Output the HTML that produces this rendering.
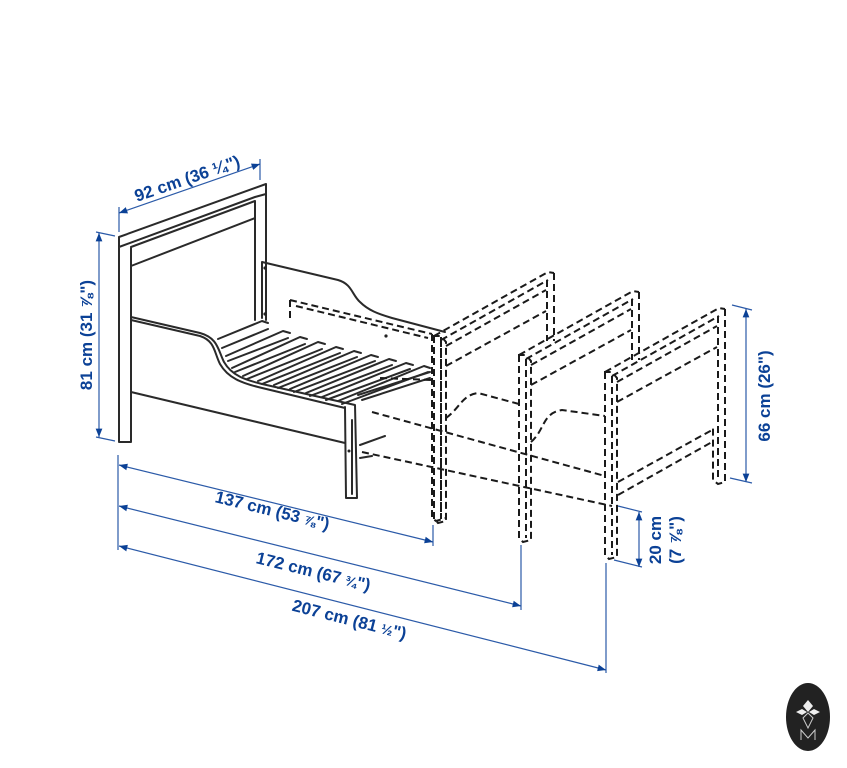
<!DOCTYPE html>
<html><head><meta charset="utf-8"><style>
html,body{margin:0;padding:0;background:#fff;}
svg{display:block;}
.b{fill:none;stroke:#2a2a2a;stroke-width:2;stroke-linejoin:round;stroke-linecap:round;}
.d{fill:none;stroke:#1a1a1a;stroke-width:2;stroke-dasharray:7 4;}
.dm{fill:none;stroke:#2b5aa8;stroke-width:1.2;}
.t{font-family:"Liberation Sans",sans-serif;font-weight:bold;font-size:17px;fill:#0b4196;}
</style></head><body>
<svg width="847" height="768" viewBox="0 0 847 768" xmlns="http://www.w3.org/2000/svg">
<defs>
<marker id="a" viewBox="0 0 10 10" refX="10" refY="5" markerWidth="7" markerHeight="7" orient="auto-start-reverse"><path d="M0,1 L10,5 L0,9 z" fill="#0b4196"/></marker>
<g id="fr">
<path class="d" d="M0,0 L0,183 L4,187 L12,185 L12,6 L7,0 Z M7,4 L7,183"/>
<path class="d" d="M0,0 L114,-64 L120,-63 M7,4 L114,-56 M12,10 L112,-46 M12,30 L112,-25"/>
</g>
</defs>

<path class="b" d="M119,237 L266,184 L266,320 M119,237 L119,442 L131,442 L131,248 M119,247 L255,197 L266,194 M131,247 L255,201 L255,320 M131,266 L255,218"/>
<path class="b" d="M262,262 L262,318 M262,262 L338,280 C352,284 352,295 360,302 C368,310 378,314 392,318 L445,332"/>
<circle cx="265" cy="268" r="1.6" fill="#222"/><circle cx="265" cy="314" r="1.6" fill="#222"/><circle cx="386" cy="336" r="1.6" fill="#222"/>
<path class="b" d="M131,317 L200,333 C218,338 218,350 224,362 C232,376 246,380 262,384 L355,405 L357,498 L346,498 L345,407 M131,320 L200,336 C215,341 214,352 220,364 C228,378 242,383 258,387 L345,408 M131,392 L345,443"/>
<path class="b" d="M352,420 L352,494 M360,445 L385,436 M360,458 L372,456"/>
<circle cx="349" cy="451" r="1.5" fill="#222"/>
<g class="b" stroke-width="2.2">
<path d="M218,339 L262,321 L268,323 M222,348 L268,329"/>
<path d="M226,356 L283,331 L290,333 M228,361 L288,338"/>
<path d="M232,368 L300,337 L307,339 M235,372 L305,344"/>
<path d="M243,376 L318,342 L325,344 M247,379 L322,349"/>
<path d="M258,381 L336,347 L343,349 M262,384 L340,353"/>
<path d="M274,385 L354,351 L361,353 M278,388 L357,357"/>
<path d="M290,389 L371,355 L378,357 M294,392 L375,361"/>
<path d="M306,393 L389,359 L396,361 M310,396 L392,365"/>
<path d="M322,397 L406,363 L413,365 M326,400 L410,369"/>
<path d="M338,401 L424,366 L430,368 M342,404 L428,372"/>
<path d="M358,395 L430,372 M362,400 L430,378"/>
</g>
<path class="d" d="M290,300 L290,318 M290,300 L432,334 M296,306 L428,338 M380,378 L432,380 M432,334 L432,518 L436,521 L446,518 M441,337 L441,518"/>
<use href="#fr" x="434" y="336"/>
<path class="d" d="M554,273 L554,341 M547,280 L547,341"/>
<use href="#fr" x="519" y="355"/>
<path class="d" d="M639,292 L639,360 M632,299 L632,360"/>
<use href="#fr" x="605" y="372"/>
<path class="d" d="M725,309 L725,482 L718,484 L713,480 L713,425 M718,316 L718,478 M618,495 L712,442 M618,482 L712,430"/>
<path class="d" d="M372,412 L605,476 M362,452 L612,506"/>
<path class="d" d="M446,418 C460,408 462,395 478,393 L519,404 M531,442 C545,430 542,413 562,410 L605,416"/>

<g>
<path class="dm" d="M119,207 L119,232 M260,159 L260,180 M96,232 L115,236 M96,437 L115,441"/>
<line class="dm" x1="119" y1="213" x2="260" y2="164" marker-start="url(#a)" marker-end="url(#a)"/>
<line class="dm" x1="99" y1="233" x2="99" y2="437" marker-start="url(#a)" marker-end="url(#a)"/>
<path class="dm" d="M118,455 L118,550 M433,525 L433,546 M521,545 L521,610 M606,563 L606,673 M732,305 L752,310 M730,478 L752,483 M618,506 L642,512 M614,560 L642,567"/>
<line class="dm" x1="119" y1="465" x2="433" y2="542" marker-start="url(#a)" marker-end="url(#a)"/>
<line class="dm" x1="119" y1="506" x2="521" y2="606" marker-start="url(#a)" marker-end="url(#a)"/>
<line class="dm" x1="119" y1="546" x2="606" y2="670" marker-start="url(#a)" marker-end="url(#a)"/>
<line class="dm" x1="746" y1="309" x2="746" y2="482" marker-start="url(#a)" marker-end="url(#a)"/>
<line class="dm" x1="639" y1="512" x2="639" y2="567" marker-start="url(#a)" marker-end="url(#a)"/>
</g>
<text class="t" text-anchor="middle" transform="translate(189,184) rotate(-19)">92 cm (36 ¼")</text>
<text class="t" text-anchor="middle" transform="translate(92,335) rotate(-90)">81 cm (31 ⅞")</text>
<text class="t" text-anchor="middle" transform="translate(271,516) rotate(13.8)">137 cm (53 <tspan font-size="14">⅞</tspan>")</text>
<text class="t" text-anchor="middle" transform="translate(312,577) rotate(13.8)">172 cm (67 <tspan font-size="14">¾</tspan>")</text>
<text class="t" text-anchor="middle" transform="translate(348,625) rotate(14.3)">207 cm (81 <tspan font-size="14">½</tspan>")</text>
<text class="t" text-anchor="middle" transform="translate(770,396) rotate(-90)">66 cm (26")</text>
<text class="t" text-anchor="middle" transform="translate(661,540) rotate(-90)">20 cm</text>
<text class="t" text-anchor="middle" transform="translate(681,540) rotate(-90)">(7 ⅞")</text>

<ellipse cx="808" cy="717" rx="22" ry="34" fill="#222"/>
<path d="M808,700 l5,6 -5,6 -5,-6z M796,712 l6,-3 5,3 -5,3z M820,712 l-6,-3 -5,3 5,3z" fill="#eee"/>
<path d="M803,718 l5,-5 5,5 -5,10z M801,740 l0,-10 7,8 7,-8 0,10" fill="none" stroke="#ccc" stroke-width="1"/>
</svg>
</body></html>
